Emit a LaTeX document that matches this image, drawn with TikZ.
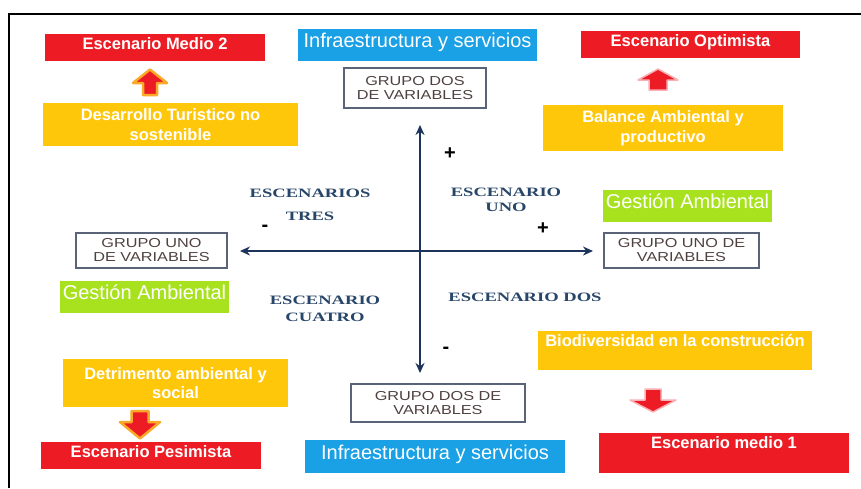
\documentclass[tikz,border=0pt]{standalone}
\usepackage{fontspec}
\setmainfont{Liberation Sans}
\newfontfamily\grupofont[FakeStretch=1.25]{Liberation Sans}
\newfontfamily\quadfont[FakeStretch=1.45]{Liberation Serif}
\usetikzlibrary{arrows.meta}
\definecolor{escred}{RGB}{237,28,36}
\definecolor{escyellow}{RGB}{255,199,10}
\definecolor{escblue}{RGB}{26,160,228}
\definecolor{escgreen}{RGB}{168,226,30}
\definecolor{axisblue}{RGB}{28,52,92}
\definecolor{quadtext}{RGB}{40,70,105}
\definecolor{grupotext}{RGB}{80,65,65}
\definecolor{grupoline}{RGB}{90,100,120}
\definecolor{glowor}{RGB}{250,170,40}
\definecolor{glowpk}{RGB}{250,175,180}
\begin{document}
\begin{tikzpicture}[x=1pt,y=-1pt,>={Stealth[length=10pt,width=9pt]},
    panel/.style={anchor=north west,inner xsep=2pt,inner ysep=0pt,outer sep=0pt},
    redbox/.style={panel,fill=escred,text=white,font=\bfseries\fontsize{16.5}{19}\selectfont,text height=15.5pt,text depth=11pt},
    yellowbox/.style={panel,fill=escyellow,text=white,font=\bfseries\fontsize{16.5}{19.5}\selectfont,align=center},
    bluebox/.style={panel,fill=escblue,text=white,font=\fontsize{20}{24}\selectfont,text height=18.5pt,text depth=13pt},
    greenbox/.style={panel,fill=escgreen,text=white,font=\fontsize{20}{24}\selectfont,text height=18.5pt,text depth=13pt},
    grupo/.style={panel,draw=grupoline,line width=1.2pt,text=grupotext,font=\grupofont\fontsize{13}{14}\selectfont,align=center},
    quad/.style={text=quadtext,font=\quadfont\bfseries\fontsize{12.8}{15}\selectfont,align=center},
    sign/.style={font=\bfseries\fontsize{20}{20}\selectfont},
    axis/.style={draw=axisblue,line width=2.6pt},
    orarrow/.style={fill=escred,draw=glowor,line width=2.5pt,line join=round},
    pkarrow/.style={fill=escred,draw=glowpk,line width=1.5pt,line join=round},
    ]
\useasboundingbox[fill=white](0,0)rectangle(861,488);
\draw[line width=2.5pt](9,488)--(9,14)--(861,14);

\node[redbox,minimum width=220](medio2)at(45,34){Escenario Medio 2};
\node[yellowbox,minimum width=255,minimum height=43](turistico)at(43,103){Desarrollo Turistico no\\sostenible};
\draw[orarrow](150,69.5)--(167,83)--(157,83)--(157,95)--(143,95)--(143,83)--(133,83)--cycle;

\node[redbox,minimum width=219](optimista)at(581,31){Escenario Optimista};
\node[yellowbox,minimum width=240,minimum height=46](balance)at(543,105){Balance Ambiental y\\productivo};
\draw[pkarrow](658,69)--(678,80)--(667,80)--(667,90)--(649,90)--(649,80)--(638,80)--cycle;

\node[bluebox,minimum width=239](infraA)at(298,29){Infraestructura y servicios};
\node[grupo,minimum width=142,minimum height=40](dosA)at(344,68){GRUPO DOS\\DE VARIABLES};

\node[greenbox,minimum width=169](gestionA)at(603,190){Gestión Ambiental};
\node[grupo,minimum width=155,minimum height=35](unoA)at(604,233){GRUPO UNO DE\\VARIABLES};
\node[grupo,minimum width=151,minimum height=35](unoB)at(76,233){GRUPO UNO\\DE VARIABLES};
\node[greenbox,minimum width=169](gestionB)at(60,281){Gestión Ambiental};

\coordinate(O)at(420,251);
\coordinate(ytop)at(420,125);
\coordinate(ybot)at(420,373);
\coordinate(xleft)at(240,251);
\coordinate(xright)at(593,251);
\draw[axis,<->](xleft)--(xright);
\draw[axis,<->](ybot)--(ytop);
\node[sign](plustop)at(450,154){+};
\node[sign](plusright)at(543,229){+};
\node[sign](minusleft)at(265,228){-};
\node[sign](minusbot)at(446,350){-};

\node[quad](tres)at(310,205){ESCENARIOS\\[8pt]TRES};
\node[quad](uno)at(506,200){ESCENARIO\\UNO};
\node[quad](cuatro)at(325,309){ESCENARIO\\[2pt]CUATRO};
\node[quad](dos)at(525,297){ESCENARIO DOS};

\node[yellowbox,minimum width=225,minimum height=48](detrimento)at(63,359){Detrimento ambiental y\\social};
\draw[orarrow](140,438.5)--(160,422)--(148.5,422)--(148.5,411)--(131.5,411)--(131.5,422)--(120,422)--cycle;
\node[redbox,minimum width=220](pesimista)at(41,442){Escenario Pesimista};

\node[grupo,minimum width=174,minimum height=38](dosB)at(351,384){GRUPO DOS DE\\VARIABLES};
\node[bluebox,minimum width=260,minimum height=33](infraB)at(305,440){Infraestructura y servicios};

\node[yellowbox,minimum width=274,text height=15pt,text depth=24pt](biodiversidad)at(538,331){Biodiversidad en la construcción};
\draw[pkarrow](653,412)--(676,400)--(661,400)--(661,389)--(645,389)--(645,400)--(630,400)--cycle;
\node[redbox,minimum width=250,text height=15pt,text depth=25pt](medio1)at(599,433){Escenario medio 1};
\end{tikzpicture}
\end{document}
